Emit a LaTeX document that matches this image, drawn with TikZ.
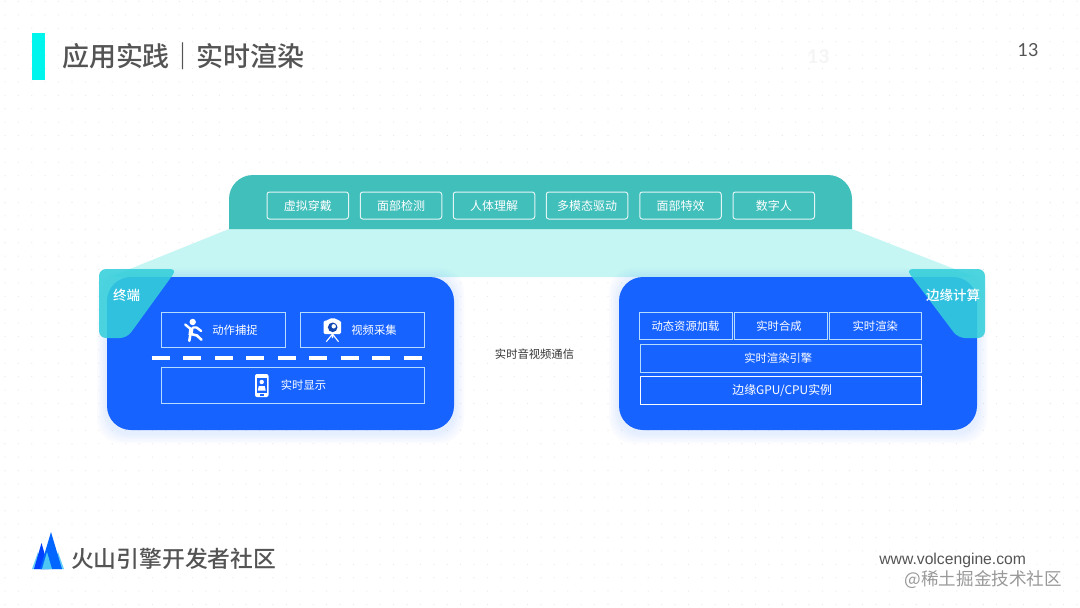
\documentclass[tikz,border=0pt]{standalone}
\usepackage{fontspec}
\setmainfont{Noto Sans CJK SC}
\newfontfamily\medfont{Noto Sans CJK SC Medium}
\newfontfamily\latinfont{Liberation Sans}
\newfontfamily\numfont{Lato}
\definecolor{panelblue}{HTML}{1763FF}
\definecolor{topteal}{HTML}{40BFBB}
\definecolor{bandcyan}{HTML}{C5F6F3}
\definecolor{tagcyan}{HTML}{34CFDB}
\definecolor{barcyan}{HTML}{00F5EC}
\definecolor{inkgrey}{HTML}{545454}
\definecolor{cellline}{HTML}{B5DCFF}
\tikzset{
  x=1pt,y=-1pt,
  chip/.style={draw=white!85!topteal,line width=1pt,rounded corners=2.5pt,text=white,font=\fontsize{12}{12}\selectfont,inner sep=0pt,minimum height=27pt,minimum width=81.5pt},
  cell/.style={draw=cellline,line width=1pt,text=white,font=\fontsize{11.3}{12}\selectfont,inner sep=0pt},
  plain/.style={inner sep=0pt,outer sep=0pt},
}
\begin{document}
\begin{tikzpicture}
\useasboundingbox (0,0) rectangle (1080,608);
\fill[white] (0,0) rectangle (1080,608);
% dotted backdrop
\foreach \i in {0,...,80}{\foreach \j in {0,...,45}{
  \fill[black!10] ({\i*13.4+5},{\j*13.4+1.5}) circle (0.55);}}
% header
\fill[barcyan] (32,33) rectangle (45,80);
\node[plain,anchor=west,text=inkgrey,font=\medfont\fontsize{27}{27}\selectfont] (title) at (62,56) {应用实践｜实时渲染};
\node[plain,text=inkgrey,font=\numfont\fontsize{18}{20}\selectfont] (page) at (1028,50) {13};
\node[plain,text=black!4,font=\numfont\bfseries\fontsize{19}{21}\selectfont] (ghost) at (818.5,57) {13};
% band
\fill[bandcyan] (229,229) -- (852,229) -- (975,277) -- (110,277) -- cycle;
% top panel
\fill[topteal] (229,229) [rounded corners=24pt] -- (229,175) -- (852,175) [sharp corners] -- (852,229) -- cycle;
\node[chip] (c1) at (307.75,205.5) {虚拟穿戴};
\node[chip] (c2) at (401,205.5) {面部检测};
\node[chip] (c3) at (494,205.5) {人体理解};
\node[chip] (c4) at (587,205.5) {多模态驱动};
\node[chip] (c5) at (680.5,205.5) {面部特效};
\node[chip] (c6) at (773.75,205.5) {数字人};
% shadows
\foreach \s in {10,8,6,4,2}{
  \fill[panelblue,opacity=0.018,rounded corners=24] ({107-\s},{278-\s}) rectangle ({454+\s},{433+\s});
  \fill[panelblue,opacity=0.018,rounded corners=24] ({619-\s},{278-\s}) rectangle ({977+\s},{433+\s});
}
% blue panels
\fill[panelblue,rounded corners=24] (107,277) rectangle (454,430);
\fill[panelblue,rounded corners=24] (619,277) rectangle (977,430);
% left cells
\node[cell,minimum width=124.5pt,minimum height=35.5pt] (a1) at (223.5,330) {};
\node[cell,minimum width=124pt,minimum height=35.5pt] (a2) at (362.5,330) {};
\node[cell,minimum width=263.5pt,minimum height=35.5pt] (a3) at (292.75,385.5) {};
\node[plain,text=white,font=\fontsize{11.3}{12}\selectfont] (a1t) at (235,330) {动作捕捉};
\node[plain,text=white,font=\fontsize{11.3}{12}\selectfont] (a2t) at (374,330) {视频采集};
\node[plain,text=white,font=\fontsize{11.3}{12}\selectfont] (a3t) at (303.5,385) {实时显示};
\draw[white,line width=4pt,dash pattern=on 18pt off 13.5pt] (151.5,357.5) -- (423,357.5);
% person icon
\fill[white] (192.7,322) circle (3.2);
\draw[white,line width=4.2pt] (191.5,327.5) -- (190.5,335);
\draw[white,line width=2.4pt,line cap=round] (185.2,324.5) -- (190,328.5);
\draw[white,line width=2.4pt,line cap=round] (193,327.5) -- (196.5,327.5) -- (201.2,331);
\draw[white,line width=2.6pt,line cap=round] (190.3,335) -- (189.3,340.8);
\draw[white,line width=2.6pt,line cap=round] (191,334) -- (197,335.5) -- (201.5,339.8);
% camera icon
\fill[white,rounded corners=1.5pt] (323.5,320.5) -- (328,320.5) -- (329.5,318.3) -- (336,318.3) -- (337.5,320.5) -- (341,320.5) -- (341,334) -- (323.5,334) -- cycle;
\fill[panelblue!70!black] (332.7,327.3) circle (4.8);
\fill[white] (333.7,326.3) circle (2.2);
\draw[white,line width=1.1pt] (332.5,334) -- (326.3,341.7) (332.5,334) -- (338.5,341.7) (332.5,334) -- (332.5,338);
% phone icon
\fill[white,rounded corners=2pt] (255,374) rectangle (268.5,397);
\fill[panelblue] (256.8,377.5) rectangle (266.7,392.5);
\fill[white] (261.7,382) circle (2.2);
\fill[white] (257.8,390.5) -- (258.8,386) -- (264.7,386) -- (265.7,390.5) -- cycle;
\fill[panelblue] (260,394) rectangle (263.5,395.5);
% right cells
\node[cell,minimum width=93pt,minimum height=27pt] (b1) at (685.5,326) {动态资源加载};
\node[cell,minimum width=92.5pt,minimum height=27pt] (b2) at (780.75,326) {\hspace{-3.5pt}实时合成};
\node[cell,minimum width=92.5pt,minimum height=27pt] (b3) at (875.25,326) {实时渲染};
\node[cell,minimum width=281.5pt,minimum height=28pt] (b4) at (780.75,358.5) {\hspace{-5pt}实时渲染引擎};
\node[cell,draw=white!90!cellline,minimum width=281.5pt,minimum height=28pt,font=\fontsize{11.9}{12}\selectfont] (b5) at (780.75,390.5) {\raisebox{-1.5pt}{\hspace{3pt}边缘GPU/CPU实例}};
% tags
\fill[tagcyan,opacity=0.88,rounded corners=7pt] (99,269) -- (177,269) -- (127,338) -- (99,338) -- cycle;
\fill[tagcyan,opacity=0.88,rounded corners=7pt] (985,269) -- (906,269) -- (958,338) -- (985,338) -- cycle;
\node[plain,text=white,font=\medfont\fontsize{13.5}{14}\selectfont] (tagL) at (126.5,295) {终端};
\node[plain,text=white,font=\medfont\fontsize{13.5}{14}\selectfont] (tagR) at (953,295) {边缘计算};
% middle
\node[plain,text=black!80,font=\fontsize{11.3}{12}\selectfont] (mid) at (534.5,354) {实时音视频通信};
% logo
\fill[cyan!60!white] (32,569) -- (38,552) -- (44,569) -- cycle;
\fill[cyan!60!white] (52,569) -- (58,552) -- (64,569) -- cycle;
\fill[blue!75!cyan] (34,569) -- (41.5,543) -- (49,569) -- cycle;
\fill[blue!60!cyan] (40,569) -- (51,532) -- (62,569) -- cycle;
\fill[cyan!70!white] (42,569) -- (47,552) -- (52,569) -- cycle;
\node[plain,anchor=west,text=inkgrey,font=\medfont\fontsize{22.8}{23}\selectfont] (brand) at (71,559) {火山引擎开发者社区};
% footer
\node[plain,anchor=east,text=inkgrey,font=\latinfont\fontsize{15.7}{16}\selectfont] (url) at (1026,560.5) {www.volcengine.com};
\node[plain,anchor=east,text=black!40,font=\fontsize{17.6}{18}\selectfont] (mark) at (1062,579.5) {@稀土掘金技术社区};
\end{tikzpicture}
\end{document}
